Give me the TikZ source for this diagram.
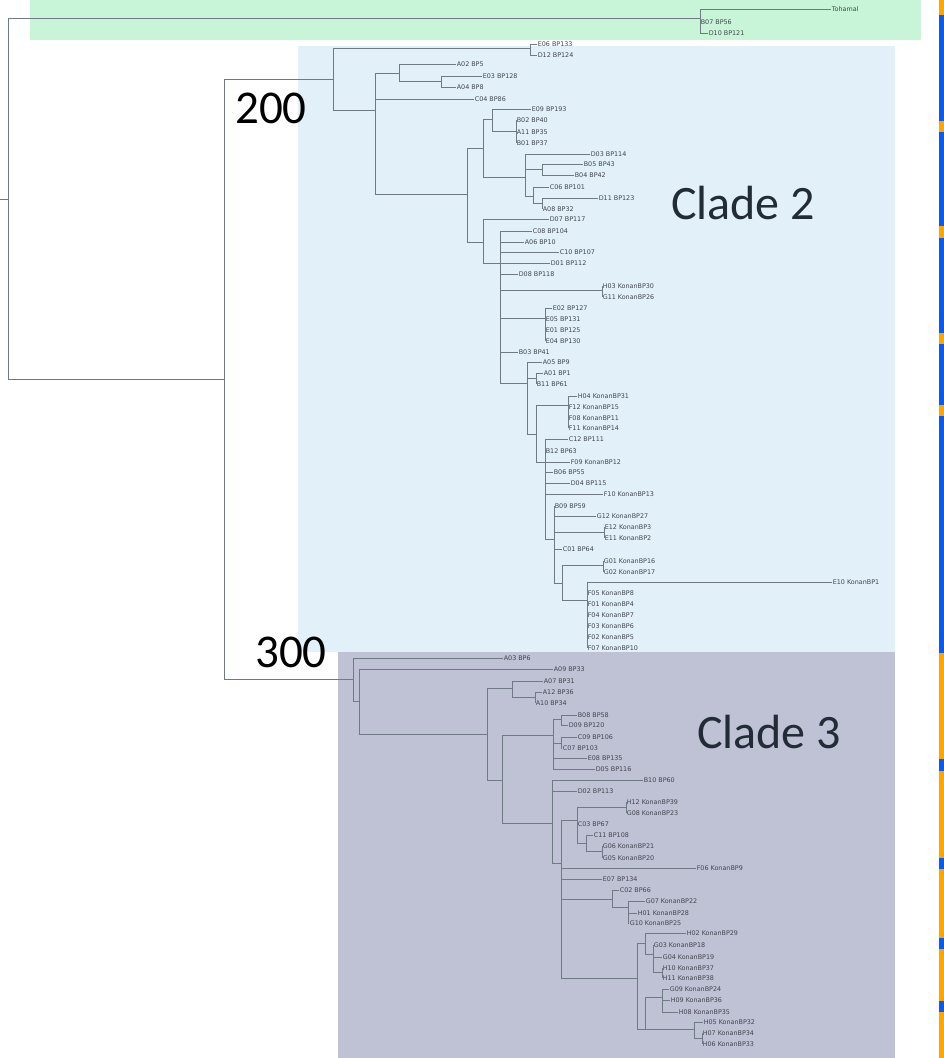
\documentclass[tikz,border=0pt]{standalone}
\usepackage{fontspec}
\usepackage{xcolor}
\newfontfamily\leaffont{DejaVu Sans}
\newfontfamily\calfont{Carlito}

\definecolor{treeline}{RGB}{112,122,132}
\definecolor{leafgrey}{RGB}{66,70,78}
\definecolor{outgreen}{RGB}{200,245,216}
\definecolor{cladeblue}{RGB}{225,240,249}
\definecolor{cladegrey}{RGB}{191,193,212}
\definecolor{barblue}{RGB}{10,90,235}
\definecolor{barorange}{RGB}{255,165,0}
\definecolor{cladetext}{RGB}{34,44,54}

\begin{document}
\begin{tikzpicture}[x=1pt, y=-1pt,
    branch/.style={color=treeline, draw, line width=0.8pt, to path={|- (\tikztotarget)}},
    leaf/.style={anchor=west, inner sep=0.6pt, text=leafgrey, font=\leaffont\fontsize{6.4}{7}\selectfont},
    cladename/.style={anchor=base west, inner sep=0pt, text=cladetext, font=\calfont\fontsize{48}{52}\selectfont},
    depthmark/.style={anchor=base west, inner sep=0pt, text=black, font=\calfont\fontsize{47}{50}\selectfont}]
   \useasboundingbox (0,0) rectangle (944,1058);
   \fill[white] (0,0) rectangle (944,1058);

   % shaded groups
   \fill[outgreen] (30,0) rectangle (921,40);
   \fill[cladeblue] (298,46) rectangle (895,652);
   \fill[cladegrey] (338,652) rectangle (895,1058);

   % colour strip on the right
   \fill[barblue] (939,0) rectangle (944,653);
   \fill[barorange] (939,653) rectangle (944,1058);
   \fill[barorange] (939,0) rectangle (944,15);
   \fill[barorange] (939,121) rectangle (944,132);
   \fill[barorange] (939,226) rectangle (944,238);
   \fill[barorange] (939,333) rectangle (944,344);
   \fill[barorange] (939,405) rectangle (944,416);
   \fill[barblue] (939,759) rectangle (944,771);
   \fill[barblue] (939,858) rectangle (944,869);
   \fill[barblue] (939,938) rectangle (944,949);
   \fill[barblue] (939,1001) rectangle (944,1012);

   % inner nodes
   \coordinate (n_stub) at (0,199);
   \coordinate (n_root) at (8,199);
   \coordinate (n_out) at (700,18);
   \coordinate (n_in) at (224,379);
   \coordinate (n_c2) at (333,79);
   \coordinate (n_a) at (530,48);
   \coordinate (n_b) at (375,110);
   \coordinate (n_b1) at (399,73);
   \coordinate (n_b11) at (441,81);
   \coordinate (n_b2) at (467,194);
   \coordinate (n_b21) at (483,148);
   \coordinate (n_b211) at (492,119);
   \coordinate (n_b2111) at (516,131);
   \coordinate (n_b212) at (525,177);
   \coordinate (n_b2121) at (542,169);
   \coordinate (n_b2122) at (533,196);
   \coordinate (n_b21221) at (542,203);
   \coordinate (n_b22) at (483,242);
   \coordinate (n_b221) at (500,263);
   \coordinate (n_h03) at (602,290);
   \coordinate (n_e02) at (545,318);
   \coordinate (n_c) at (527,383);
   \coordinate (n_c1) at (536,378);
   \coordinate (n_c4) at (536,434);
   \coordinate (n_h04) at (568,405);
   \coordinate (n_d) at (545,462);
   \coordinate (n_e) at (554,539);
   \coordinate (n_e12) at (604,532);
   \coordinate (n_f) at (562,583);
   \coordinate (n_g01) at (603,565);
   \coordinate (n_k) at (587,600);
   \coordinate (n_c3) at (353,679);
   \coordinate (n_c31) at (359,701);
   \coordinate (n_c32) at (487,734);
   \coordinate (n_c321) at (512,688);
   \coordinate (n_c3211) at (535,697);
   \coordinate (n_c322) at (502,780);
   \coordinate (n_c3221) at (553,735);
   \coordinate (n_b08) at (561,719);
   \coordinate (n_c09) at (561,743);
   \coordinate (n_c3222) at (552,823);
   \coordinate (n_c32221) at (561,863);
   \coordinate (n_cc1) at (577,820);
   \coordinate (n_h12) at (626,807);
   \coordinate (n_c11) at (586,843);
   \coordinate (n_g06) at (602,851);
   \coordinate (n_cc2) at (612,899);
   \coordinate (n_g07) at (628,907);
   \coordinate (n_cc3) at (637,978);
   \coordinate (n_cc31) at (645,943);
   \coordinate (n_g03) at (653,954);
   \coordinate (n_h10) at (662,972);
   \coordinate (n_cc32) at (645,1029);
   \coordinate (n_g09) at (662,997);
   \coordinate (n_h05) at (694,1029);
   \coordinate (n_h07) at (702,1038);

   % outgroup
   \node[leaf] (l_Toh) at (831,9) {Tohamal};
   \node[leaf] (l_B07) at (700,22) {B07 BP56};
   \node[leaf] (l_D10) at (708,33) {D10 BP121};

   % clade 2
   \node[leaf] (l_E06) at (537,44) {E06 BP133};
   \node[leaf] (l_D12) at (537,55) {D12 BP124};
   \node[leaf] (l_A02) at (456,64) {A02 BP5};
   \node[leaf] (l_E03) at (482,76) {E03 BP128};
   \node[leaf] (l_A04) at (456,87) {A04 BP8};
   \node[leaf] (l_C04) at (474,99) {C04 BP86};
   \node[leaf] (l_E09) at (531,109) {E09 BP193};
   \node[leaf] (l_B02) at (516,120) {B02 BP40};
   \node[leaf] (l_A11) at (516,132) {A11 BP35};
   \node[leaf] (l_B01) at (516,143) {B01 BP37};
   \node[leaf] (l_D03) at (590,154) {D03 BP114};
   \node[leaf] (l_B05) at (583,164) {B05 BP43};
   \node[leaf] (l_B04) at (574,175) {B04 BP42};
   \node[leaf] (l_C06) at (549,187) {C06 BP101};
   \node[leaf] (l_D11) at (598,198) {D11 BP123};
   \node[leaf] (l_A08) at (542,209) {A08 BP32};
   \node[leaf] (l_D07) at (549,219) {D07 BP117};
   \node[leaf] (l_C08) at (532,231) {C08 BP104};
   \node[leaf] (l_A06) at (524,242) {A06 BP10};
   \node[leaf] (l_C10) at (559,252) {C10 BP107};
   \node[leaf] (l_D01) at (550,263) {D01 BP112};
   \node[leaf] (l_D08) at (518,274) {D08 BP118};
   \node[leaf] (l_H03) at (602,286) {H03 KonanBP30};
   \node[leaf] (l_G11) at (602,297) {G11 KonanBP26};
   \node[leaf] (l_E02) at (552,308) {E02 BP127};
   \node[leaf] (l_E05) at (545,319) {E05 BP131};
   \node[leaf] (l_E01) at (545,330) {E01 BP125};
   \node[leaf] (l_E04) at (545,341) {E04 BP130};
   \node[leaf] (l_B03) at (518,352) {B03 BP41};
   \node[leaf] (l_A05) at (542,362) {A05 BP9};
   \node[leaf] (l_A01) at (543,373) {A01 BP1};
   \node[leaf] (l_B11) at (536,384) {B11 BP61};
   \node[leaf] (l_H04) at (577,396) {H04 KonanBP31};
   \node[leaf] (l_F12) at (568,407) {F12 KonanBP15};
   \node[leaf] (l_F08) at (568,418) {F08 KonanBP11};
   \node[leaf] (l_F11) at (568,428) {F11 KonanBP14};
   \node[leaf] (l_C12) at (568,439) {C12 BP111};
   \node[leaf] (l_B12) at (545,451) {B12 BP63};
   \node[leaf] (l_F09) at (570,462) {F09 KonanBP12};
   \node[leaf] (l_B06) at (553,472) {B06 BP55};
   \node[leaf] (l_D04) at (570,483) {D04 BP115};
   \node[leaf] (l_F10) at (603,494) {F10 KonanBP13};
   \node[leaf] (l_B09) at (554,506) {B09 BP59};
   \node[leaf] (l_G12) at (596,516) {G12 KonanBP27};
   \node[leaf] (l_E12) at (604,527) {E12 KonanBP3};
   \node[leaf] (l_E11) at (604,538) {E11 KonanBP2};
   \node[leaf] (l_C01) at (562,549) {C01 BP64};
   \node[leaf] (l_G01) at (603,561) {G01 KonanBP16};
   \node[leaf] (l_G02) at (603,572) {G02 KonanBP17};
   \node[leaf] (l_E10) at (832,582) {E10 KonanBP1};
   \node[leaf] (l_F05) at (587,593) {F05 KonanBP8};
   \node[leaf] (l_F01) at (587,604) {F01 KonanBP4};
   \node[leaf] (l_F04) at (587,615) {F04 KonanBP7};
   \node[leaf] (l_F03) at (587,626) {F03 KonanBP6};
   \node[leaf] (l_F02) at (587,637) {F02 KonanBP5};
   \node[leaf] (l_F07) at (587,648) {F07 KonanBP10};

   % clade 3
   \node[leaf] (l_A03) at (503,658) {A03 BP6};
   \node[leaf] (l_A09) at (553,669) {A09 BP33};
   \node[leaf] (l_A07) at (543,681) {A07 BP31};
   \node[leaf] (l_A12) at (542,692) {A12 BP36};
   \node[leaf] (l_A10) at (535,703) {A10 BP34};
   \node[leaf] (l_B08) at (577,715) {B08 BP58};
   \node[leaf] (l_D09) at (568,725) {D09 BP120};
   \node[leaf] (l_C09) at (577,737) {C09 BP106};
   \node[leaf] (l_C07) at (562,748) {C07 BP103};
   \node[leaf] (l_E08) at (587,758) {E08 BP135};
   \node[leaf] (l_D05) at (595,769) {D05 BP116};
   \node[leaf] (l_B10) at (643,780) {B10 BP60};
   \node[leaf] (l_D02) at (577,791) {D02 BP113};
   \node[leaf] (l_H12) at (626,802) {H12 KonanBP39};
   \node[leaf] (l_G08) at (626,813) {G08 KonanBP23};
   \node[leaf] (l_C03) at (577,824) {C03 BP67};
   \node[leaf] (l_C11) at (593,835) {C11 BP108};
   \node[leaf] (l_G06) at (602,846) {G06 KonanBP21};
   \node[leaf] (l_G05) at (602,858) {G05 KonanBP20};
   \node[leaf] (l_F06) at (696,868) {F06 KonanBP9};
   \node[leaf] (l_E07) at (602,879) {E07 BP134};
   \node[leaf] (l_C02) at (619,890) {C02 BP66};
   \node[leaf] (l_G07) at (645,901) {G07 KonanBP22};
   \node[leaf] (l_H01) at (637,913) {H01 KonanBP28};
   \node[leaf] (l_G10) at (629,923) {G10 KonanBP25};
   \node[leaf] (l_H02) at (686,933) {H02 KonanBP29};
   \node[leaf] (l_G03) at (653,945) {G03 KonanBP18};
   \node[leaf] (l_G04) at (662,957) {G04 KonanBP19};
   \node[leaf] (l_H10) at (662,968) {H10 KonanBP37};
   \node[leaf] (l_H11) at (662,978) {H11 KonanBP38};
   \node[leaf] (l_G09) at (669,989) {G09 KonanBP24};
   \node[leaf] (l_H09) at (670,1000) {H09 KonanBP36};
   \node[leaf] (l_H08) at (678,1012) {H08 KonanBP35};
   \node[leaf] (l_H05) at (703,1022) {H05 KonanBP32};
   \node[leaf] (l_H07) at (702,1033) {H07 KonanBP34};
   \node[leaf] (l_H06) at (702,1044) {H06 KonanBP33};

   \path[branch]
    % root and outgroup
    (n_stub) edge (n_root)
    (n_root) edge (n_out)
    (n_root) edge (n_in)
    (n_out) edge (l_Toh)
    (n_out) edge (l_B07)
    (n_out) edge (l_D10)
    (n_in) edge (n_c2)
    (n_in) edge (n_c3)

    % clade 2
    (n_c2) edge (n_a)
    (n_c2) edge (n_b)
    (n_a) edge (l_E06)
    (n_a) edge (l_D12)
    (n_b) edge (n_b1)
    (n_b) edge (l_C04)
    (n_b) edge (n_b2)
    (n_b1) edge (l_A02)
    (n_b1) edge (n_b11)
    (n_b11) edge (l_E03)
    (n_b11) edge (l_A04)
    (n_b2) edge (n_b21)
    (n_b2) edge (n_b22)
    (n_b21) edge (n_b211)
    (n_b21) edge (n_b212)
    (n_b211) edge (l_E09)
    (n_b211) edge (n_b2111)
    (n_b2111) edge (l_B02)
    (n_b2111) edge (l_A11)
    (n_b2111) edge (l_B01)
    (n_b212) edge (l_D03)
    (n_b212) edge (n_b2121)
    (n_b212) edge (n_b2122)
    (n_b2121) edge (l_B05)
    (n_b2121) edge (l_B04)
    (n_b2122) edge (l_C06)
    (n_b2122) edge (n_b21221)
    (n_b21221) edge (l_D11)
    (n_b21221) edge (l_A08)
    (n_b22) edge (l_D07)
    (n_b22) edge (n_b221)
    (n_b221) edge (l_C08)
    (n_b221) edge (l_A06)
    (n_b221) edge (l_C10)
    (n_b221) edge (l_D01)
    (n_b221) edge (l_D08)
    (n_b221) edge (n_h03)
    (n_b221) edge (n_e02)
    (n_b221) edge (l_B03)
    (n_b221) edge (n_c)
    (n_h03) edge (l_H03)
    (n_h03) edge (l_G11)
    (n_e02) edge (l_E02)
    (n_e02) edge (l_E05)
    (n_e02) edge (l_E01)
    (n_e02) edge (l_E04)
    (n_c) edge (l_A05)
    (n_c) edge (n_c1)
    (n_c) edge (n_c4)
    (n_c1) edge (l_A01)
    (n_c1) edge (l_B11)
    (n_c4) edge (n_h04)
    (n_c4) edge (n_d)
    (n_h04) edge (l_H04)
    (n_h04) edge (l_F12)
    (n_h04) edge (l_F08)
    (n_h04) edge (l_F11)
    (n_d) edge (l_C12)
    (n_d) edge (l_B12)
    (n_d) edge (l_F09)
    (n_d) edge (l_B06)
    (n_d) edge (l_D04)
    (n_d) edge (l_F10)
    (n_d) edge (n_e)
    (n_e) edge (l_B09)
    (n_e) edge (l_G12)
    (n_e) edge (n_e12)
    (n_e) edge (l_C01)
    (n_e) edge (n_f)
    (n_e12) edge (l_E12)
    (n_e12) edge (l_E11)
    (n_f) edge (n_g01)
    (n_f) edge (n_k)
    (n_g01) edge (l_G01)
    (n_g01) edge (l_G02)
    (n_k) edge (l_E10)
    (n_k) edge (l_F05)
    (n_k) edge (l_F01)
    (n_k) edge (l_F04)
    (n_k) edge (l_F03)
    (n_k) edge (l_F02)
    (n_k) edge (l_F07)

    % clade 3
    (n_c3) edge (l_A03)
    (n_c3) edge (n_c31)
    (n_c31) edge (l_A09)
    (n_c31) edge (n_c32)
    (n_c32) edge (n_c321)
    (n_c32) edge (n_c322)
    (n_c321) edge (l_A07)
    (n_c321) edge (n_c3211)
    (n_c3211) edge (l_A12)
    (n_c3211) edge (l_A10)
    (n_c322) edge (n_c3221)
    (n_c322) edge (n_c3222)
    (n_c3221) edge (n_b08)
    (n_c3221) edge (n_c09)
    (n_c3221) edge (l_E08)
    (n_c3221) edge (l_D05)
    (n_b08) edge (l_B08)
    (n_b08) edge (l_D09)
    (n_c09) edge (l_C09)
    (n_c09) edge (l_C07)
    (n_c3222) edge (l_B10)
    (n_c3222) edge (l_D02)
    (n_c3222) edge (n_c32221)
    (n_c32221) edge (n_cc1)
    (n_c32221) edge (l_F06)
    (n_c32221) edge (l_E07)
    (n_c32221) edge (n_cc2)
    (n_c32221) edge (n_cc3)
    (n_cc1) edge (n_h12)
    (n_cc1) edge (l_C03)
    (n_cc1) edge (n_c11)
    (n_h12) edge (l_H12)
    (n_h12) edge (l_G08)
    (n_c11) edge (l_C11)
    (n_c11) edge (n_g06)
    (n_g06) edge (l_G06)
    (n_g06) edge (l_G05)
    (n_cc2) edge (l_C02)
    (n_cc2) edge (n_g07)
    (n_g07) edge (l_G07)
    (n_g07) edge (l_H01)
    (n_g07) edge (l_G10)
    (n_cc3) edge (n_cc31)
    (n_cc3) edge (n_cc32)
    (n_cc31) edge (l_H02)
    (n_cc31) edge (n_g03)
    (n_g03) edge (l_G03)
    (n_g03) edge (l_G04)
    (n_g03) edge (n_h10)
    (n_h10) edge (l_H10)
    (n_h10) edge (l_H11)
    (n_cc32) edge (n_g09)
    (n_cc32) edge (n_h05)
    (n_g09) edge (l_G09)
    (n_g09) edge (l_H09)
    (n_g09) edge (l_H08)
    (n_h05) edge (l_H05)
    (n_h05) edge (n_h07)
    (n_h07) edge (l_H07)
    (n_h07) edge (l_H06)
    ;

   % big labels
   \node[depthmark] (t_200) at (235,123) {200};
   \node[depthmark] (t_300) at (255,667) {300};
   \node[cladename] (t_clade2) at (671,219) {Clade 2};
   \node[cladename] (t_clade3) at (697,748) {Clade 3};
\end{tikzpicture}
\end{document}
